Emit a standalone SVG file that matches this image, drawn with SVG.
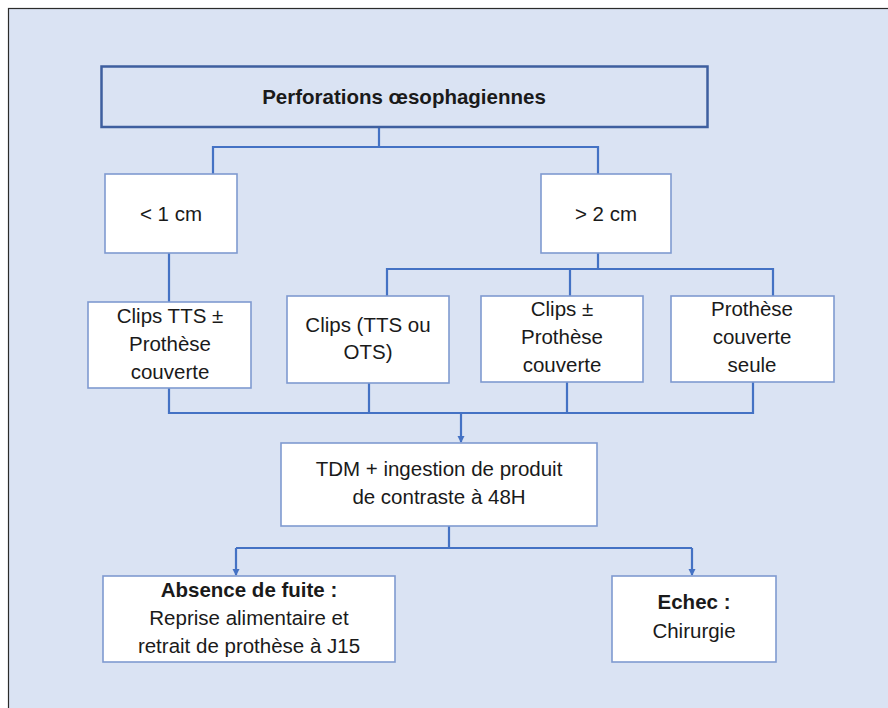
<svg xmlns="http://www.w3.org/2000/svg" width="888" height="708" viewBox="0 0 888 708">
<defs>
<marker id="ah" markerWidth="7" markerHeight="8" refX="6" refY="4" orient="auto" markerUnits="userSpaceOnUse" viewBox="0 0 7 8">
<path d="M0,0.5 L7,4 L0,7.5 Z" fill="#4472c4"/>
</marker>
<style>
.bx{fill:#ffffff;stroke:#7f9ad0;stroke-width:1.6}
.tb{fill:#dae3f3;stroke:#3e5f9f;stroke-width:2.5}
.t{font-family:"Liberation Sans",Arial,sans-serif;font-size:20.5px;fill:#1a1a1a;text-anchor:middle}
.b{font-weight:bold}
.c{fill:none;stroke:#4472c4;stroke-width:2.2}
</style>
</defs>
<rect x="0" y="0" width="888" height="708" fill="#ffffff"/>
<rect x="8.5" y="8.5" width="890" height="710" fill="#dae3f3" stroke="#2b2b2b" stroke-width="1.2"/>
<g id="connectors">
<path class="c" d="M379,127 V147 M213,174 V147 H598 V174"/>
<path class="c" d="M169,253 V302"/>
<path class="c" d="M598,253 V269 M387,296 V269 H773 V296 M570,269 V296"/>
<path class="c" d="M169,388 V413 H753 V382 M369,383 V413 M567,382 V413"/>
<path class="c" d="M461,413 V442" marker-end="url(#ah)"/>
<path class="c" d="M449,526 V548 M236,548 H692"/>
<path class="c" d="M236,548 V575" marker-end="url(#ah)"/>
<path class="c" d="M692,548 V575" marker-end="url(#ah)"/>
</g>
<g id="title">
<rect class="tb" x="101.5" y="66.5" width="606" height="60.5"/>
<text class="t b" x="404" y="104">Perforations œsophagiennes</text>
</g>
<g id="lt1cm">
<rect class="bx" x="105" y="174" width="132" height="79"/>
<text class="t" x="171" y="221">&lt; 1 cm</text>
</g>
<g id="gt2cm">
<rect class="bx" x="541" y="174" width="130" height="79"/>
<text class="t" x="606" y="221">&gt; 2 cm</text>
</g>
<g id="clipsTTS">
<rect class="bx" x="88" y="302" width="163" height="86"/>
<text class="t" x="170" y="323">Clips TTS ±</text>
<text class="t" x="170" y="351">Prothèse</text>
<text class="t" x="170" y="379">couverte</text>
</g>
<g id="clipsTTSOTS">
<rect class="bx" x="287" y="296" width="162" height="87"/>
<text class="t" x="368" y="332">Clips (TTS ou</text>
<text class="t" x="368" y="359">OTS)</text>
</g>
<g id="clipsProthese">
<rect class="bx" x="481" y="296" width="162" height="86"/>
<text class="t" x="562" y="316">Clips ±</text>
<text class="t" x="562" y="344">Prothèse</text>
<text class="t" x="562" y="372">couverte</text>
</g>
<g id="protheseSeule">
<rect class="bx" x="671" y="296" width="163" height="86"/>
<text class="t" x="752" y="316">Prothèse</text>
<text class="t" x="752" y="344">couverte</text>
<text class="t" x="752" y="372">seule</text>
</g>
<g id="tdm">
<rect class="bx" x="281" y="443" width="316" height="83"/>
<text class="t" x="439" y="476">TDM + ingestion de produit</text>
<text class="t" x="439" y="504">de contraste à 48H</text>
</g>
<g id="absence">
<rect class="bx" x="103" y="576" width="292" height="86"/>
<text class="t b" x="249" y="597">Absence de fuite :</text>
<text class="t" x="249" y="625">Reprise alimentaire et</text>
<text class="t" x="249" y="653">retrait de prothèse à J15</text>
</g>
<g id="echec">
<rect class="bx" x="612" y="576" width="164" height="86"/>
<text class="t b" x="694" y="609">Echec :</text>
<text class="t" x="694" y="638">Chirurgie</text>
</g>
</svg>
